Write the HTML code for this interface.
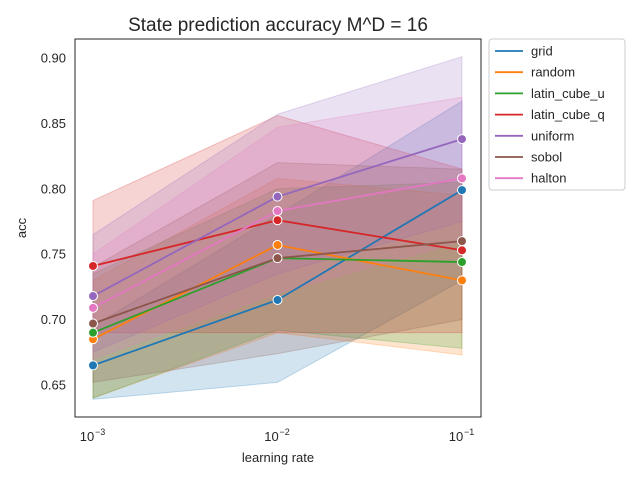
<!DOCTYPE html>
<html><head><meta charset="utf-8"><style>
body{margin:0;background:#fff;font-family:"Liberation Sans","DejaVu Sans",sans-serif;}
</style></head><body>
<svg width="640" height="480" xmlns="http://www.w3.org/2000/svg">
<rect width="640" height="480" fill="#fff"/>
<text x="278" y="31" font-size="19" text-anchor="middle" fill="#262626">State prediction accuracy M^D = 16</text>
<g id="plot"></g>
<rect x="75" y="39" width="406" height="378" fill="none" stroke="#262626" stroke-width="1"/>
<g id="ticks" font-size="13" fill="#262626"></g>
<text x="278" y="462" font-size="13" text-anchor="middle" fill="#262626">learning rate</text>
<text transform="translate(26,228) rotate(-90)" font-size="13" text-anchor="middle" fill="#262626">acc</text>
<g id="legend"></g>
</svg>
<script>
const xs=[0.001,0.01,0.1];
const names=["grid","random","latin_cube_u","latin_cube_q","uniform","sobol","halton"];
const colors=["#1f77b4","#ff7f0e","#2ca02c","#d62728","#9467bd","#8c564b","#e377c2"];
const grid=[0.665,0.715,0.799];
const random=[0.685,0.757,0.730];
const latinU=[0.690,0.747,0.744];
const latinQ=[0.741,0.776,0.753];
const uniform=[0.718,0.794,0.838];
const sobol=[0.697,0.747,0.760];
const halton=[0.709,0.783,0.808];
const gridLo=[0.639,0.652,0.730], gridHi=[0.695,0.780,0.867];
const randomLo=[0.640,0.690,0.673], randomHi=[0.730,0.808,0.795];
const latinULo=[0.640,0.692,0.678], latinUHi=[0.735,0.800,0.805];
const latinQLo=[0.690,0.690,0.690], latinQHi=[0.791,0.856,0.815];
const uniformLo=[0.675,0.735,0.775], uniformHi=[0.765,0.857,0.901];
const sobolLo=[0.652,0.674,0.700], sobolHi=[0.740,0.820,0.815];
const haltonLo=[0.670,0.720,0.760], haltonHi=[0.750,0.847,0.870];
const yTicks=[0.65,0.70,0.75,0.80,0.85,0.90];
const xTickExp=["−3","−2","−1"];
const means=[grid,random,latinU,latinQ,uniform,sobol,halton];
const los=[gridLo,randomLo,latinULo,latinQLo,uniformLo,sobolLo,haltonLo];
const his=[gridHi,randomHi,latinUHi,latinQHi,uniformHi,sobolHi,haltonHi];
const NS="http://www.w3.org/2000/svg";
function X(v){return 93+(Math.log10(v)+3)*184.5;}
function Y(v){return 385-(v-0.65)/0.05*65.4;}
function mk(t,a,p){const e=document.createElementNS(NS,t);for(const k in a)e.setAttribute(k,a[k]);p.appendChild(e);return e;}
const plot=document.getElementById('plot');
means.forEach((m,i)=>{
  const pts=xs.map((x,j)=>X(x)+','+Y(his[i][j])).concat(xs.slice().reverse().map((x,j)=>X(x)+','+Y(los[i][2-j])));
  const b=mk('polygon',{points:pts.join(' '),fill:colors[i],'fill-opacity':0.2,stroke:colors[i],'stroke-opacity':0.25},plot);
  
  
});
means.forEach((m,i)=>{
  const l=mk('polyline',{points:xs.map((x,j)=>X(x)+','+Y(m[j])).join(' '),fill:'none',stroke:colors[i],'stroke-width':1.8},plot);
  
  
  xs.forEach((x,j)=>{
    const c=mk('circle',{cx:X(x),cy:Y(m[j]),r:4.5,fill:colors[i],stroke:'#fff','stroke-width':1},plot);
    
    
  });
});
const tk=document.getElementById('ticks');
yTicks.forEach(v=>{
  const t=mk('text',{x:66,y:Y(v)+4.5,'text-anchor':'end'},tk);t.textContent=v.toFixed(2);
  
  
});
xs.forEach((x,j)=>{
  const t=mk('text',{x:X(x)-6,y:441,'text-anchor':'middle'},tk);t.textContent='10';
  
  
  const s=mk('text',{x:X(x)+2,y:435,'font-size':9},tk);s.textContent=xTickExp[j];
  
  
});
const lg=document.getElementById('legend');
mk('rect',{x:489,y:39,width:136,height:151,fill:'#fff',stroke:'#ccc',rx:3},lg);
names.forEach((n,i)=>{
  const y=51+i*21.2;
  const g=mk('g',{},lg);
  
  
  mk('line',{x1:495,x2:523,y1:y,y2:y,stroke:colors[i],'stroke-width':1.8},g);
  const t=mk('text',{x:531,y:y+4.5,'font-size':13,fill:'#262626'},g);t.textContent=n;
});
</script>
</body></html>
